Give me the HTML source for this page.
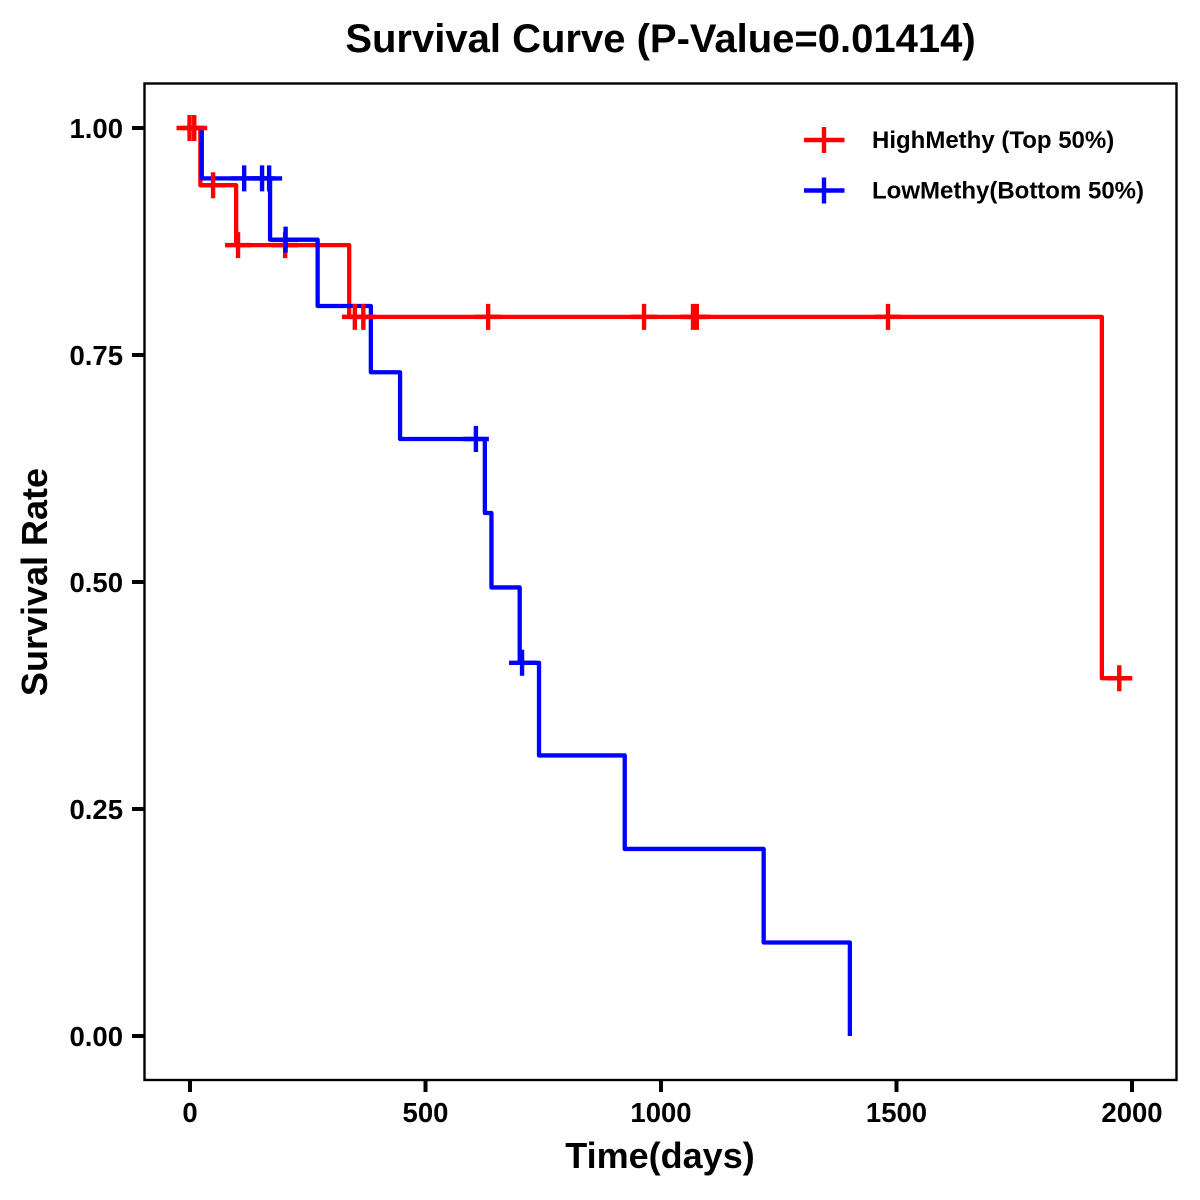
<!DOCTYPE html>
<html lang="en">
<head>
<meta charset="utf-8">
<title>Survival Curve</title>
<style>
html,body{margin:0;padding:0;background:#fff;}
svg{display:block;}
text{font-family:"Liberation Sans",Arial,sans-serif;font-weight:bold;fill:#000;}
</style>
</head>
<body>
<svg id="chart" xmlns="http://www.w3.org/2000/svg" width="1200" height="1200" viewBox="0 0 1200 1200">
  <rect x="0" y="0" width="1200" height="1200" fill="#fff"/>
  <text x="660.5" y="52" font-size="40" text-anchor="middle">Survival Curve (P-Value=0.01414)</text>
  <text x="660" y="1168" font-size="36" text-anchor="middle">Time(days)</text>
  <text transform="translate(47,582) rotate(-90)" font-size="36" text-anchor="middle">Survival Rate</text>
  <g id="marks"></g>
  <rect x="144.5" y="83.5" width="1032" height="996.5" fill="none" stroke="#000" stroke-width="2.4"/>
  <g id="axes"></g>
  <g>
    <g>
      <line x1="804" x2="844.5" y1="140" y2="140" stroke="#ff0000" stroke-width="4.4"/>
      <line x1="824" x2="824" y1="127" y2="153" stroke="#ff0000" stroke-width="4.4"/>
      <text x="872" y="148" font-size="24">HighMethy (Top 50%)</text>
    </g>
    <g>
      <line x1="804" x2="844.5" y1="190.5" y2="190.5" stroke="#0000ff" stroke-width="4.4"/>
      <line x1="824" x2="824" y1="177.5" y2="203.5" stroke="#0000ff" stroke-width="4.4"/>
      <text x="872" y="198.5" font-size="24">LowMethy(Bottom 50%)</text>
    </g>
  </g>
</svg>
<script>
const xTicks = [0, 500, 1000, 1500, 2000];
const xTickLabels = ["0", "500", "1000", "1500", "2000"];
const yTicks = [0, 0.25, 0.5, 0.75, 1];
const yTickLabels = ["0.00", "0.25", "0.50", "0.75", "1.00"];

const highEventTimes = [22, 98, 338, 1936];
const highSurvival = [0.937, 0.871, 0.792, 0.394];
const highCensorTimes = [-1, 9, 49, 102, 202, 350, 368, 633, 964, 1068, 1076, 1482, 1973];
const highEndTime = 1973;

const lowEventTimes = [25, 170, 271, 384, 446, 626, 640, 700, 741, 923, 1218, 1401];
const lowSurvival = [0.9445, 0.877, 0.804, 0.731, 0.6575, 0.576, 0.494, 0.411, 0.309, 0.206, 0.103, 0];
const lowCensorTimes = [115, 153, 168, 203, 607, 705];
const lowEndTime = 1401;

const RED = '#ff0000';
const BLUE = '#0000ff';
const NS = 'http://www.w3.org/2000/svg';
const marks = document.getElementById('marks');
const axes = document.getElementById('axes');

function xScale(t) { return 190 + t * (1132 - 190) / 2000; }
function yScale(s) { return 1036 - s * (1036 - 128); }

function survivalAt(t, times, surv) {
  let s = 1;
  for (let i = 0; i < times.length; i++) {
    if (t >= times[i]) s = surv[i];
  }
  return s;
}

function stepPath(times, surv, endTime) {
  let d = 'M' + xScale(0) + ' ' + yScale(1);
  let cur = 1;
  for (let i = 0; i < times.length; i++) {
    d += 'L' + xScale(times[i]) + ' ' + yScale(cur);
    cur = surv[i];
    d += 'L' + xScale(times[i]) + ' ' + yScale(cur);
  }
  d += 'L' + xScale(endTime) + ' ' + yScale(cur);
  return d;
}

function drawCurve(times, surv, endTime, color, name) {
  const p = document.createElementNS(NS, 'path');
  p.setAttribute('d', stepPath(times, surv, endTime));
  p.setAttribute('fill', 'none');
  p.setAttribute('stroke', color);
  p.setAttribute('stroke-width', '4.3');
  p.setAttribute('stroke-linejoin', 'round');
  
  
  marks.appendChild(p);
}

function drawCensors(censors, times, surv, color, name) {
  censors.forEach(function (t) {
    const cx = xScale(t);
    const cy = yScale(survivalAt(t, times, surv));
    const p = document.createElementNS(NS, 'path');
    p.setAttribute('d', 'M' + (cx - 13) + ' ' + cy + 'H' + (cx + 13) + 'M' + cx + ' ' + (cy - 13) + 'V' + (cy + 13));
    p.setAttribute('fill', 'none');
    p.setAttribute('stroke', color);
    p.setAttribute('stroke-width', '4.4');
    
    
    marks.appendChild(p);
  });
}

drawCurve(highEventTimes, highSurvival, highEndTime, RED, 'high-methy-curve');
drawCurve(lowEventTimes, lowSurvival, lowEndTime, BLUE, 'low-methy-curve');
drawCensors(highCensorTimes, highEventTimes, highSurvival, RED, 'high-methy-censor-mark');
drawCensors(lowCensorTimes, lowEventTimes, lowSurvival, BLUE, 'low-methy-censor-mark');

xTicks.forEach(function (v, i) {
  const x = xScale(v);
  const tick = document.createElementNS(NS, 'line');
  tick.setAttribute('x1', x);
  tick.setAttribute('x2', x);
  tick.setAttribute('y1', 1081);
  tick.setAttribute('y2', 1092);
  tick.setAttribute('stroke', '#000');
  tick.setAttribute('stroke-width', '4');
  
  
  axes.appendChild(tick);
  const label = document.createElementNS(NS, 'text');
  label.setAttribute('x', x);
  label.setAttribute('y', 1122);
  label.setAttribute('font-size', '27.5');
  label.setAttribute('text-anchor', 'middle');
  
  
  label.textContent = xTickLabels[i];
  axes.appendChild(label);
});

yTicks.forEach(function (v, i) {
  const y = yScale(v);
  const tick = document.createElementNS(NS, 'line');
  tick.setAttribute('x1', 132);
  tick.setAttribute('x2', 144);
  tick.setAttribute('y1', y);
  tick.setAttribute('y2', y);
  tick.setAttribute('stroke', '#000');
  tick.setAttribute('stroke-width', '4');
  
  
  axes.appendChild(tick);
  const label = document.createElementNS(NS, 'text');
  label.setAttribute('x', 123);
  label.setAttribute('y', y + 10);
  label.setAttribute('font-size', '27.5');
  label.setAttribute('text-anchor', 'end');
  
  
  label.textContent = yTickLabels[i];
  axes.appendChild(label);
});
</script>
</body>
</html>
